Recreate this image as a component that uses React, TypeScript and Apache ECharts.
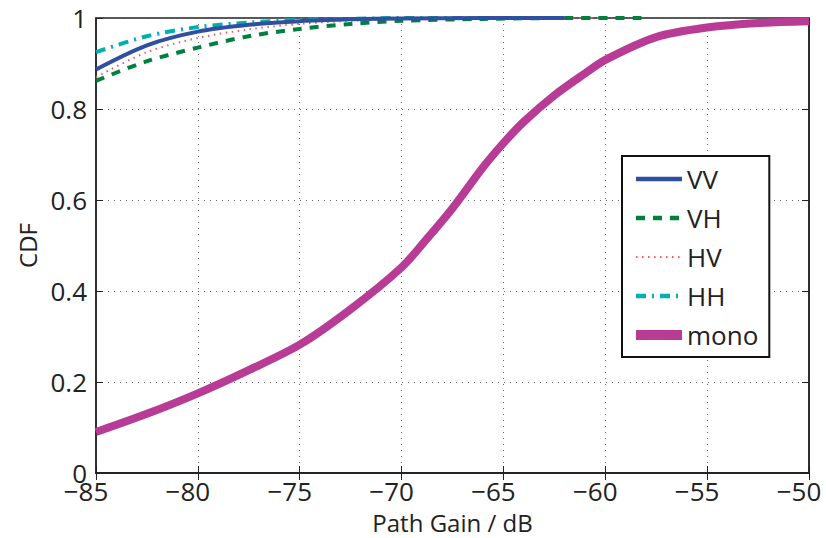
import React, { useEffect, useRef } from "react";
import * as echarts from "echarts";

const monoX = [-85, -82.5, -80, -77.5, -75, -72.5, -70, -68.75, -67.5, -66, -65, -64, -62.5, -61, -60, -57.5, -55, -52.5, -50];
const monoY = [0.09, 0.13, 0.175, 0.226, 0.282, 0.36, 0.452, 0.515, 0.582, 0.672, 0.725, 0.772, 0.83, 0.878, 0.908, 0.958, 0.979, 0.989, 0.993];

const vvX = [-85, -82.5, -80, -77.5, -75, -72.5, -70, -66, -62];
const vvY = [0.887, 0.94, 0.97, 0.985, 0.993, 0.997, 0.999, 1, 1];

const vhX = [-85, -82.5, -80, -77.5, -75, -72.5, -70, -66, -62, -58];
const vhY = [0.862, 0.905, 0.935, 0.96, 0.976, 0.987, 0.994, 0.998, 1, 1];

const hvX = [-85, -82.5, -80, -77.5, -75, -72.5, -70, -66, -60];
const hvY = [0.87, 0.925, 0.956, 0.975, 0.987, 0.994, 0.998, 1, 1];

const hhX = [-85, -82.5, -80, -77.5, -75, -72.5, -70, -66, -62];
const hhY = [0.925, 0.96, 0.98, 0.99, 0.996, 0.998, 1, 1, 1];

const legendNames = ["VV", "VH", "HV", "HH", "mono"];

const zip = (xs: number[], ys: number[]) => xs.map((x, i) => [x, ys[i]]);

const FONT = "'Open Sans', 'Noto Sans', sans-serif";

const C = { VV: "#2F4FA0", VH: "#00803F", HV: "#F05A5A", HH: "#00AFAF", mono: "#B83C96" };
const LS: Record<string, any> = {
  VV: { color: C.VV, width: 4, type: "solid" },
  VH: { color: C.VH, width: 4, type: [9, 8] },
  HV: { color: C.HV, width: 2, type: [1.5, 4.5] },
  HH: { color: C.HH, width: 4, type: [10, 6, 2, 6] },
  mono: { color: C.mono, width: 8, type: "solid" },
};

export default function App() {
  const ref = useRef<HTMLDivElement>(null);
  useEffect(() => {
    if (!ref.current) return;
    const chart = echarts.init(ref.current, null, { renderer: "svg" });
    const gridLine = { show: true, lineStyle: { color: "#666", type: [1, 5] as any, width: 1 } };
    const lineCommon = { smooth: 0.3, symbol: "none", showSymbol: false };
    chart.setOption({
      animation: false,
      backgroundColor: "#fff",
      grid: { left: 96, right: 17, top: 18, bottom: 65, show: true, borderColor: "#222", borderWidth: 1.5,
        outerBoundsMode: "none", containLabel: false },
      xAxis: [
        {
          type: "value", min: -85, max: -50, interval: 5,
          name: "Path Gain / dB", nameLocation: "middle", nameGap: 38,
          nameTextStyle: { fontSize: 24, lineHeight: 22, color: "#222", fontFamily: FONT },
          axisLine: { show: true, lineStyle: { color: "#222", width: 1.5 } },
          axisTick: { show: true, inside: true, length: 7, lineStyle: { color: "#222" } },
          axisLabel: { fontSize: 26, lineHeight: 22, color: "#222", fontFamily: FONT, margin: 7, padding: [0, 20, 0, 0],
            formatter: (v: number) => String(v).replace("-", "\u2212") },
          splitLine: gridLine,
        },
        {
          type: "value", position: "top", min: -85, max: -50, interval: 5,
          axisLine: { show: true, lineStyle: { color: "#222", width: 1.5 } },
          axisTick: { show: true, inside: true, length: 7, lineStyle: { color: "#222" } },
          axisLabel: { show: false }, splitLine: { show: false },
        },
      ],
      yAxis: [
        {
          type: "value", min: 0, max: 1, interval: 0.2,
          name: "CDF", nameLocation: "middle", nameGap: 54, nameRotate: 90,
          nameTextStyle: { fontSize: 24, color: "#222", fontFamily: FONT },
          axisLine: { show: true, lineStyle: { color: "#222", width: 1.5 } },
          axisTick: { show: true, inside: true, length: 7, lineStyle: { color: "#222" } },
          axisLabel: { fontSize: 26, lineHeight: 12, color: "#222", fontFamily: FONT, margin: 9 },
          splitLine: gridLine,
        },
        {
          type: "value", position: "right", min: 0, max: 1, interval: 0.2,
          axisLine: { show: true, lineStyle: { color: "#222", width: 1.5 } },
          axisTick: { show: true, inside: true, length: 7, lineStyle: { color: "#222" } },
          axisLabel: { show: false }, splitLine: { show: false },
        },
      ],
      legend: {
        orient: "vertical", left: 622, top: 156,
        backgroundColor: "#fff", borderColor: "#111", borderWidth: 2, borderRadius: 0,
        padding: [10, 11, 9, 9],
        itemWidth: 46, itemHeight: 14, itemGap: 13,
        itemStyle: { opacity: 0 },
        textStyle: { fontSize: 26, lineHeight: 26, color: "#222", fontFamily: FONT },
        data: legendNames.map((n) => ({
          name: n,
          lineStyle: { ...LS[n], width: n === "mono" ? 10 : n === "HV" ? 2 : 4.5 },
        })),
      },
      series: legendNames.slice().reverse().map((n) => {
        const d: Record<string, number[][]> = {
          VV: zip(vvX, vvY), VH: zip(vhX, vhY), HV: zip(hvX, hvY), HH: zip(hhX, hhY), mono: zip(monoX, monoY),
        };
        return { name: n, type: "line", data: d[n], ...lineCommon, lineStyle: LS[n], itemStyle: { color: (C as any)[n] } };
      }),
    });
    return () => chart.dispose();
  }, []);
  return <div ref={ref} style={{ width: 826, height: 538, position: "absolute", left: 0, top: 0 }} />;
}
